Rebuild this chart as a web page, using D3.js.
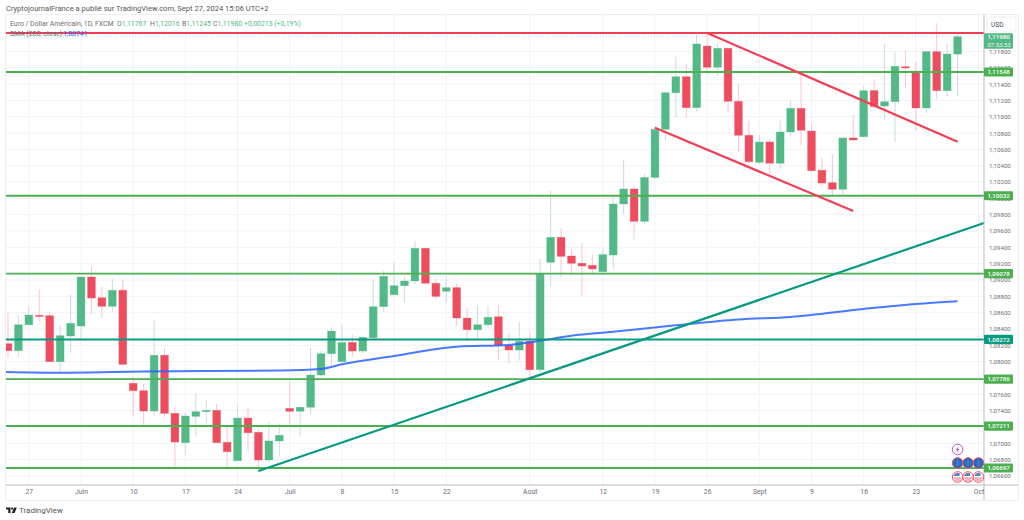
<!DOCTYPE html>
<html>
<head>
<meta charset="utf-8">
<title>Euro / Dollar</title>
<script src="https://d3js.org/d3.v7.min.js"></script>
<style>
  html, body { margin: 0; padding: 0; background: #fff; overflow: hidden; }
  svg { display: block; font-family: Roboto, sans-serif; }
  .axis path, .axis line { display: none; }
</style>
</head>
<body>
<div id="chart"></div>
<script>
// one entry per trading session
const opens = [
  1.08220, 1.08134, 1.08452, 1.08568, 1.08563, 1.07999, 1.08314, 1.08436, 1.09037, 1.08783,
  1.08678, 1.08874, 1.07735, 1.07644, 1.07395, 1.08078, 1.07367, 1.07007, 1.07330, 1.07387,
  1.07404, 1.07012, 1.06786, 1.07309, 1.07134, 1.06795, 1.07028, 1.07428, 1.07392, 1.07441,
  1.07836, 1.08097, 1.07999, 1.08237, 1.08130, 1.08293, 1.08673, 1.08820, 1.08930, 1.08988,
  1.09388, 1.08960, 1.08862, 1.08906, 1.08534, 1.08391, 1.08452, 1.08550, 1.08200, 1.08142,
  1.08249, 1.07901, 1.09217, 1.09523, 1.09294, 1.09205, 1.09180, 1.09102, 1.09306, 1.09931,
  1.10115, 1.09719, 1.10256, 1.10846, 1.11294, 1.11490, 1.11111, 1.11866, 1.11606, 1.11838,
  1.11189, 1.10773, 1.10442, 1.10690, 1.10430, 1.10813, 1.11103, 1.10825, 1.10344, 1.10192,
  1.10111, 1.10740, 1.10755, 1.11321, 1.11131, 1.11184, 1.11613, 1.11560, 1.11107, 1.11797,
  1.11319, 1.11767
];
const closes = [
  1.08134, 1.08452, 1.08571, 1.08559, 1.07999, 1.08318, 1.08470, 1.09037, 1.08779, 1.08678,
  1.08874, 1.07967, 1.07644, 1.07395, 1.08078, 1.07367, 1.07015, 1.07334, 1.07387, 1.07404,
  1.07007, 1.06897, 1.07309, 1.07129, 1.06795, 1.07028, 1.07098, 1.07392, 1.07441, 1.07836,
  1.08097, 1.08375, 1.08234, 1.08130, 1.08298, 1.08673, 1.09045, 1.08930, 1.08988, 1.09388,
  1.08960, 1.08800, 1.08906, 1.08534, 1.08391, 1.08452, 1.08543, 1.08200, 1.08142, 1.08249,
  1.07901, 1.09077, 1.09523, 1.09290, 1.09205, 1.09171, 1.09135, 1.09310, 1.09931, 1.10115,
  1.09719, 1.10256, 1.10846, 1.11294, 1.11490, 1.11111, 1.11891, 1.11606, 1.11838, 1.11189,
  1.10773, 1.10449, 1.10690, 1.10430, 1.10813, 1.11103, 1.10834, 1.10339, 1.10188, 1.10111,
  1.10740, 1.10715, 1.11319, 1.11125, 1.11184, 1.11618, 1.11597, 1.11107, 1.11797, 1.11319,
  1.11768, 1.11980
];
const highs = [
  1.08604, 1.08571, 1.08673, 1.08886, 1.08608, 1.08449, 1.08816, 1.09037, 1.09163, 1.08918,
  1.09012, 1.09012, 1.07815, 1.07726, 1.08519, 1.08163, 1.07448, 1.07371, 1.07612, 1.07530,
  1.07481, 1.07196, 1.07465, 1.07436, 1.07175, 1.07257, 1.07245, 1.07754, 1.07469, 1.08167,
  1.08130, 1.08421, 1.08449, 1.08335, 1.08302, 1.09000, 1.09110, 1.09224, 1.09040, 1.09478,
  1.09396, 1.09016, 1.09028, 1.08960, 1.08657, 1.08694, 1.08681, 1.08694, 1.08347, 1.08489,
  1.08347, 1.09257, 1.10090, 1.09633, 1.09367, 1.09450, 1.09306, 1.09388, 1.10001, 1.10470,
  1.10151, 1.10298, 1.10878, 1.11303, 1.11735, 1.11646, 1.12001, 1.12026, 1.11900, 1.11842,
  1.11401, 1.10948, 1.10776, 1.10724, 1.10951, 1.11196, 1.11532, 1.10911, 1.10491, 1.10543,
  1.10740, 1.11021, 1.11376, 1.11459, 1.11891, 1.11789, 1.11817, 1.11674, 1.11797, 1.12145,
  1.11891, 1.12016
];
const lows = [
  1.08044, 1.08057, 1.08449, 1.08501, 1.07999, 1.07877, 1.08109, 1.08274, 1.08583, 1.08534,
  1.08612, 1.07962, 1.07325, 1.07203, 1.07338, 1.07325, 1.06681, 1.06856, 1.07093, 1.07245,
  1.07007, 1.06706, 1.06786, 1.06905, 1.06652, 1.06767, 1.06848, 1.07203, 1.07093, 1.07358,
  1.07815, 1.07962, 1.07995, 1.08060, 1.08102, 1.08265, 1.08612, 1.08816, 1.08722, 1.08951,
  1.08951, 1.08764, 1.08734, 1.08436, 1.08256, 1.08274, 1.08421, 1.08020, 1.07980, 1.08011,
  1.07784, 1.07864, 1.08918, 1.09033, 1.09053, 1.08808, 1.09082, 1.09102, 1.09135, 1.09808,
  1.09499, 1.09682, 1.10234, 1.10715, 1.10988, 1.10981, 1.11062, 1.11511, 1.11503, 1.11049,
  1.10559, 1.10430, 1.10421, 1.10298, 1.10363, 1.10755, 1.10654, 1.10339, 1.10155, 1.10020,
  1.10053, 1.10706, 1.10755, 1.11107, 1.10960, 1.10682, 1.11356, 1.10829, 1.11042, 1.11214,
  1.11254, 1.11245
];

// SMA 200, sampled at the sessions where it could be read
const smaSessions = [-0.19, 5, 13, 26, 30, 32, 37, 43, 48, 51, 54, 58, 64, 70, 75, 82, 87, 91];
const smaValues = [1.07873, 1.07864, 1.07879, 1.07891, 1.07910, 1.07967, 1.08069, 1.08183, 1.08204,
  1.08256, 1.08318, 1.08367, 1.08445, 1.08516, 1.08547, 1.08645, 1.08706, 1.08741];

const hLevels = [1.11548, 1.10032, 1.09078, 1.07786, 1.07211, 1.06697];
const tealLevel = 1.08272;
const redLevel = 1.12026;
const lastPrice = 1.11980;

const upperSessions = [67, 91];
const upperPrices = [1.12026, 1.10694];
const lowerSessions = [62, 81];
const lowerPrices = [1.10866, 1.09845];
const supportSessions = [24, 93.53];
const supportPrices = [1.06660, 1.09698];

const priceTicks = [1.066, 1.068, 1.070, 1.072, 1.074, 1.076, 1.078, 1.080, 1.082, 1.084, 1.086, 1.088,
  1.090, 1.092, 1.094, 1.096, 1.098, 1.100, 1.102, 1.104, 1.106, 1.108, 1.110, 1.112, 1.114, 1.116, 1.118];
const gridTop = 1.120;
const timeTicks = [2, 7, 12, 17, 22, 27, 32, 37, 42, 50, 57, 62, 67, 72, 77, 82, 87, 93];
const timeLabels = ["27", "Juin", "10", "17", "24", "Juil", "8", "15", "22", "Août", "12", "19", "26", "Sept", "9", "16", "23", "Oct"];

const eventSessions = [91, 92, 93];

const WIDTH = 1024, HEIGHT = 520;
const plotLeft = 6, plotRight = 984, plotTop = 15, plotBottom = 485, outerRight = 1018, outerBottom = 500;

const UP = "#53b987", DOWN = "#ee4d5f", UP_WICK = "#c5dede", DOWN_WICK = "#f9c6cf";
const GREEN = "#4caf50", TEAL = "#089981", RED = "#f23d52", BLUE = "#2962ff", GRID = "#f0f3fa", TEXT = "#6a6d78";

const x = d3.scaleLinear().domain([-0.19, 93.53]).range([plotLeft, plotRight]);
const y = d3.scaleLinear().domain([1.06489, 1.12246]).range([plotBottom, plotTop]);
const comma = d => d3.format(".5f")(d).replace(".", ",");

function createSvg() {
  const svg = d3.select("#chart").append("svg")
    .attr("width", WIDTH)
    .attr("height", HEIGHT)
    .attr("viewBox", [0, 0, WIDTH, HEIGHT]);
  svg.append("clipPath").attr("id", "plot").append("rect")
    .attr("x", plotLeft).attr("y", plotTop)
    .attr("width", plotRight - plotLeft).attr("height", plotBottom - plotTop);
  return svg;
}

function drawFrame(svg) {
  svg.append("rect").attr("x", plotLeft - 0.5).attr("y", plotTop - 0.5)
    .attr("width", outerRight - plotLeft + 1).attr("height", outerBottom - plotTop + 1)
    .attr("fill", "none").attr("stroke", "#eceef3");

  svg.append("g").selectAll("line").data(timeTicks).join("line")
    .attr("x1", d => x(d)).attr("x2", d => x(d))
    .attr("y1", plotTop).attr("y2", plotBottom)
    .attr("stroke", GRID).attr("stroke-width", 1);

  svg.append("g").selectAll("line").data(priceTicks.concat([gridTop])).join("line")
    .attr("x1", plotLeft).attr("x2", plotRight)
    .attr("y1", d => y(d)).attr("y2", d => y(d))
    .attr("stroke", GRID).attr("stroke-width", 1);
}

function drawCandles(svg) {
  const g = svg.append("g").attr("clip-path", "url(#plot)");
  const candles = g.selectAll("g").data(opens).join("g");
  const isUp = i => closes[i] >= opens[i];
  const w = 7.8;

  candles.append("line")
    .attr("x1", (d, i) => x(i)).attr("x2", (d, i) => x(i))
    .attr("y1", (d, i) => y(highs[i])).attr("y2", (d, i) => y(lows[i]))
    .attr("stroke", (d, i) => isUp(i) ? UP_WICK : DOWN_WICK)
    .attr("stroke-width", 1);

  candles.append("rect")
    .attr("x", (d, i) => x(i) - w / 2)
    .attr("width", w)
    .attr("y", (d, i) => y(Math.max(opens[i], closes[i])))
    .attr("height", (d, i) => Math.max(1.2, Math.abs(y(opens[i]) - y(closes[i]))))
    .attr("fill", (d, i) => isUp(i) ? UP : DOWN)
    .attr("stroke", (d, i) => isUp(i) ? UP : DOWN)
    .attr("stroke-opacity", 0.45)
    .attr("stroke-width", 0.7);
}

function drawSma(svg) {
  const line = d3.line()
    .x((d, i) => x(smaSessions[i]))
    .y(d => y(d))
    .curve(d3.curveMonotoneX);
  svg.append("path").attr("d", line(smaValues))
    .attr("fill", "none").attr("stroke", BLUE).attr("stroke-width", 2).attr("opacity", 0.85);
}

function drawLevels(svg) {
  const g = svg.append("g");
  g.selectAll("line.level").data(hLevels).join("line")
    .attr("class", "level")
    .attr("x1", plotLeft).attr("x2", plotRight)
    .attr("y1", d => y(d)).attr("y2", d => y(d))
    .attr("stroke", GREEN).attr("stroke-width", 1.9);

  g.append("line").attr("x1", plotLeft).attr("x2", plotRight)
    .attr("y1", y(tealLevel)).attr("y2", y(tealLevel))
    .attr("stroke", TEAL).attr("stroke-width", 1.9);

  g.append("line").attr("x1", plotLeft).attr("x2", plotRight)
    .attr("y1", y(redLevel)).attr("y2", y(redLevel))
    .attr("stroke", RED).attr("stroke-width", 1.9);

  // dotted last price line
  g.append("line").attr("x1", plotLeft).attr("x2", plotRight)
    .attr("y1", y(lastPrice)).attr("y2", y(lastPrice))
    .attr("stroke", UP).attr("stroke-width", 0.6).attr("stroke-opacity", 0.6).attr("stroke-dasharray", "1 2");
}

function drawTrend(svg, sessions, prices, color) {
  svg.append("line")
    .attr("x1", x(sessions[0])).attr("y1", y(prices[0]))
    .attr("x2", x(sessions[1])).attr("y2", y(prices[1]))
    .attr("stroke", color).attr("stroke-width", 2.2);
}

function drawAxes(svg) {
  svg.append("line").attr("x1", plotRight).attr("x2", plotRight).attr("y1", plotTop).attr("y2", outerBottom)
    .attr("stroke", "#b8bbc4").attr("stroke-width", 1);
  svg.append("line").attr("x1", plotLeft).attr("x2", outerRight).attr("y1", plotBottom).attr("y2", plotBottom)
    .attr("stroke", "#b8bbc4").attr("stroke-width", 1);

  const yAxis = d3.axisRight(y).tickValues(priceTicks).tickFormat(comma).tickSize(0).tickPadding(5);
  svg.append("g").attr("class", "axis").attr("transform", `translate(${plotRight},0)`).call(yAxis)
    .selectAll("text").attr("font-size", 6.1).attr("fill", TEXT).attr("font-family", "Roboto, sans-serif");

  const xAxis = d3.axisBottom(x).tickValues(timeTicks)
    .tickFormat((d, i) => timeLabels[i]).tickSize(0).tickPadding(4);
  svg.append("g").attr("class", "axis").attr("transform", `translate(0,${plotBottom})`).call(xAxis)
    .selectAll("text").attr("font-size", 6.8).attr("fill", TEXT).attr("font-family", "Roboto, sans-serif");

  svg.append("rect").attr("x", 987).attr("y", 17).attr("width", 29).attr("height", 14)
    .attr("fill", "#fff").attr("stroke", "#eceef3").attr("rx", 2);
  svg.append("text").attr("x", 991).attr("y", 27).text("USD")
    .attr("font-size", 6.6).attr("fill", "#4a4d58");
}

function drawPriceLabels(svg) {
  const tags = hLevels.map(d => ({ v: d, c: GREEN, t: "#fff" }));
  tags.push({ v: tealLevel, c: TEAL, t: "#fff" });
  const g = svg.append("g").selectAll("g").data(tags).join("g")
    .attr("transform", d => `translate(${plotRight},${y(d.v)})`);
  g.append("rect").attr("x", 0).attr("y", -4.6).attr("width", 29).attr("height", 9.2)
    .attr("rx", 1).attr("fill", d => d.c);
  g.append("text").attr("x", 3.5).attr("y", 2.3).text(d => comma(d.v))
    .attr("font-size", 6.1).attr("font-weight", 500).attr("fill", d => d.t);

  const last = svg.append("g").attr("transform", `translate(${plotRight},${y(lastPrice)})`);
  last.append("rect").attr("x", 0).attr("y", -3.5).attr("width", 29).attr("height", 15.5)
    .attr("rx", 1).attr("fill", UP);
  last.append("text").attr("x", 3.5).attr("y", 2.4).text(comma(lastPrice))
    .attr("font-size", 6.1).attr("font-weight", 500).attr("fill", "#fff");
  last.append("text").attr("x", 3.5).attr("y", 10).text("07:53:53")
    .attr("font-size", 6).attr("fill", "#e8f5ee");
}

function drawEvents(svg) {
  const flash = svg.append("g").attr("transform", `translate(${x(eventSessions[0])},${plotBottom - 35.5})`);
  flash.append("circle").attr("r", 5.3).attr("fill", "#fff").attr("stroke", "#ab47bc").attr("stroke-width", 0.9);
  flash.append("path").attr("d", "M0.8,-3 L-1.8,0.6 L-0.2,0.6 L-0.8,3 L1.8,-0.6 L0.2,-0.6 Z").attr("fill", "#ab47bc");

  svg.append("g").selectAll("g").data(eventSessions).join("g")
    .attr("transform", d => `translate(${x(d)},${plotBottom - 22})`)
    .call(g => {
      g.append("circle").attr("r", 5.3).attr("fill", "#1e62b8").attr("stroke", "#f05468").attr("stroke-width", 1);
      g.append("path").attr("d", "M-4,0 H4 M0,-4 V4 M-3,-2 H3 M-3,2 H3").attr("stroke", "#6d9ad4").attr("stroke-width", 0.5);
    });

  svg.append("g").selectAll("g").data(eventSessions).join("g")
    .attr("transform", d => `translate(${x(d)},${plotBottom - 8})`)
    .call(g => {
      g.append("circle").attr("r", 5.3).attr("fill", "#fff").attr("stroke", "#f05468").attr("stroke-width", 1);
      g.append("path").attr("d", "M-4,-1 A4.2,4.2 0 0 1 2,-3.7 L2,-1 Z").attr("fill", "#4f86c6");
      g.append("path").attr("d", "M-4,1 H4 M-3,3 H3").attr("stroke", "#ee6a7a").attr("stroke-width", 1);
    });
}

function drawHeader(svg) {
  svg.append("text").attr("x", 6).attr("y", 11)
    .text("CryptojournalFrance a publié sur TradingView.com, Sept 27, 2024 15:06 UTC+2")
    .attr("font-size", 7.55).attr("fill", "#555");

  const legendNames = ["O", "H", "B", "C"];
  const legendValues = [opens[91], highs[91], lows[91], closes[91]];
  const legendX = [117, 150, 182, 213];

  svg.append("text").attr("x", 10).attr("y", 26).text("Euro / Dollar Américain, 1D, FXCM")
    .attr("font-size", 6.9).attr("fill", TEXT);
  legendNames.forEach((n, i) => {
    const t = svg.append("text").attr("x", legendX[i]).attr("y", 26).attr("font-size", 6.9);
    t.append("tspan").attr("fill", TEXT).text(n);
    t.append("tspan").attr("fill", UP).text(comma(legendValues[i]));
  });
  svg.append("text").attr("x", 244).attr("y", 26).text("+0,00213 (+0,19%)")
    .attr("font-size", 6.9).attr("fill", UP);

  svg.append("text").attr("x", 10).attr("y", 35.5).text("SMA (200, close)")
    .attr("font-size", 6.9).attr("fill", TEXT);
  svg.append("text").attr("x", 63).attr("y", 35.5).text(comma(smaValues[smaValues.length - 1]))
    .attr("font-size", 6.9).attr("fill", BLUE);
}

function drawFooter(svg) {
  const logo = svg.append("g").attr("fill", "#222");
  logo.append("path").attr("d", "M6,507.5 H10.5 V513 H8.3 V509.6 H6 Z");
  logo.append("circle").attr("cx", 12).attr("cy", 508.6).attr("r", 1.1);
  logo.append("path").attr("d", "M14,507.5 H16.8 L14.6,513 H11.8 Z");
  svg.append("text").attr("x", 19).attr("y", 513).text("TradingView")
    .attr("font-size", 8).attr("fill", "#555");
}

function drawChart(svg) {
  drawFrame(svg);
  drawCandles(svg);
  drawSma(svg);
  drawLevels(svg);
  drawTrend(svg, upperSessions, upperPrices, RED);
  drawTrend(svg, lowerSessions, lowerPrices, RED);
  drawTrend(svg, supportSessions, supportPrices, TEAL);
  drawAxes(svg);
  drawEvents(svg);
  drawPriceLabels(svg);
  drawHeader(svg);
  drawFooter(svg);
}

drawChart(createSvg());
</script>
</body>
</html>
